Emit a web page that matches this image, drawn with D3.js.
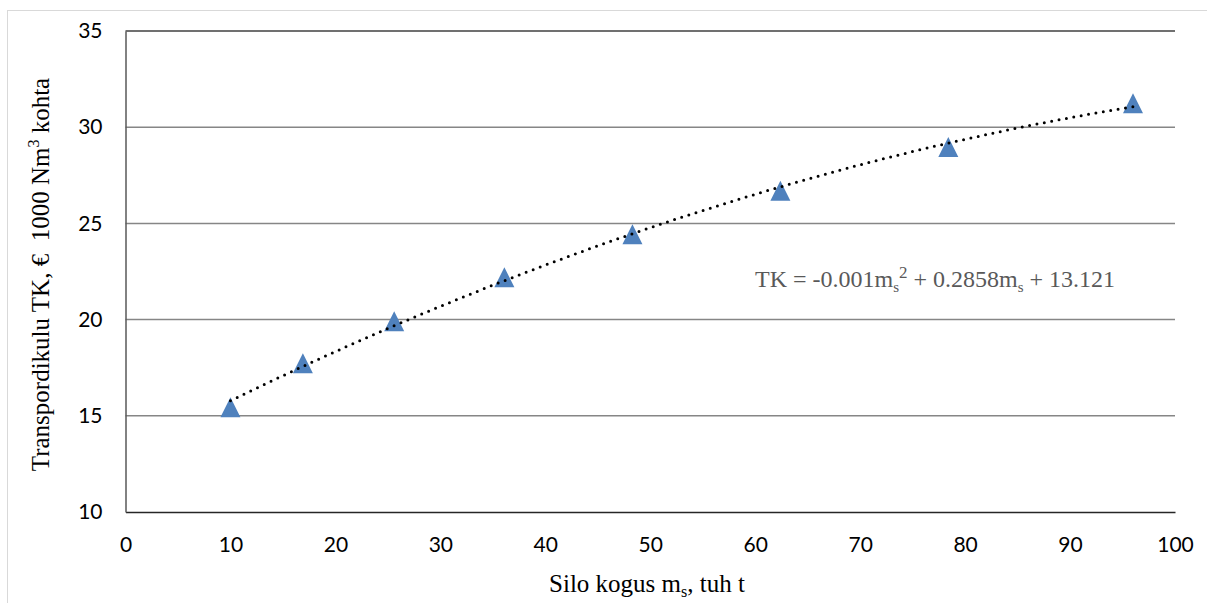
<!DOCTYPE html>
<html>
<head>
<meta charset="utf-8">
<script src="https://cdn.jsdelivr.net/npm/d3@7"></script>
<style>
  html, body { margin: 0; padding: 0; background: #fff; }
  svg { display: block; }
  .tick text { font-family: Lato, 'Open Sans', sans-serif; font-size: 21px; fill: #000; }
  .title { font-family: 'Liberation Serif', 'Times New Roman', serif; font-size: 25px; fill: #000; }
  .eq { font-family: 'Liberation Serif', 'Times New Roman', serif; font-size: 24px; fill: #595959; }
</style>
</head>
<body>
<script>
// silo amount (thousand t) and transport cost
const siloKogus = [10, 16.9, 25.6, 36.1, 48.3, 62.4, 78.4, 96]
const kulu = [15.44, 17.73, 19.92, 22.2, 24.44, 26.7, 28.97, 31.25]
const xTicks = [0, 10, 20, 30, 40, 50, 60, 70, 80, 90, 100]
const yTicks = [10, 15, 20, 25, 30, 35]

const width = 1207
const height = 603
const margin = { top: 31, right: 32, bottom: 91, left: 125.5 }
const w = width - margin.left - margin.right
const h = height - margin.top - margin.bottom

const svg = d3.select('body').append('svg')
  .attr('width', width)
  .attr('height', height)

// outer chart border
svg.append('rect')
  .attr('x', 7.5).attr('y', 10.5)
  .attr('width', width).attr('height', height)
  .attr('fill', 'none').attr('stroke', '#d9d9d9')

const g = svg.append('g').attr('transform', `translate(${margin.left},${margin.top})`)

const x = d3.scaleLinear().domain([0, 100]).range([0, w])
const y = d3.scaleLinear().domain([10, 35]).range([h, 0])

// gridlines
g.selectAll('.grid')
  .data(yTicks.filter(d => d > 10))
  .join('line')
  .attr('class', 'grid')
  .attr('x1', 0).attr('x2', w)
  .attr('y1', d => y(d)).attr('y2', d => y(d))
  .attr('stroke', d => d === 35 ? '#404040' : '#868686')
  .attr('stroke-width', 1.5)

const xAxis = g.append('g')
  .attr('transform', `translate(0,${h})`)
  .call(d3.axisBottom(x).tickValues(xTicks).tickSize(0).tickPadding(25))
xAxis.select('.domain').attr('stroke', '#262626').attr('stroke-width', 1.5)

const yAxis = g.append('g')
  .call(d3.axisLeft(y).tickValues(yTicks).tickSize(0).tickPadding(23))
yAxis.select('.domain').attr('stroke', '#595959').attr('stroke-width', 1.5)

// markers: triangle with its box centred on the point
const triangle = {
  draw(ctx, size) {
    const r = Math.sqrt(size) / 2
    ctx.moveTo(0, -r)
    ctx.lineTo(r, r)
    ctx.lineTo(-r, r)
    ctx.closePath()
  }
}
g.selectAll('.pt')
  .data(siloKogus.map((d, i) => [d, kulu[i]]))
  .join('path')
  .attr('class', 'pt')
  .attr('d', d3.symbol().type(triangle).size(400))
  .attr('transform', d => `translate(${x(d[0])},${y(d[1])})`)
  .attr('fill', '#4f81bd')

// polynomial (order 2) least squares trendline, like Excel's
function polyFit(xs, ys) {
  const n = xs.length
  const s = k => d3.sum(xs, v => Math.pow(v, k))
  const t = k => d3.sum(xs, (v, i) => Math.pow(v, k) * ys[i])
  const A = [[n, s(1), s(2)], [s(1), s(2), s(3)], [s(2), s(3), s(4)]]
  const B = [t(0), t(1), t(2)]
  // gaussian elimination
  for (let i = 0; i < 3; i++) {
    for (let j = i + 1; j < 3; j++) {
      const f = A[j][i] / A[i][i]
      for (let k = i; k < 3; k++) A[j][k] -= f * A[i][k]
      B[j] -= f * B[i]
    }
  }
  const c = [0, 0, 0]
  for (let i = 2; i >= 0; i--) {
    let v = B[i]
    for (let k = i + 1; k < 3; k++) v -= A[i][k] * c[k]
    c[i] = v / A[i][i]
  }
  return m => c[0] + c[1] * m + c[2] * m * m
}
const poly = polyFit(siloKogus, kulu)
const xs = d3.range(d3.min(siloKogus), d3.max(siloKogus) + 0.01, 0.5)
g.append('path')
  .datum(xs)
  .attr('fill', 'none')
  .attr('stroke', '#000')
  .attr('stroke-width', 3)
  .attr('stroke-linecap', 'round')
  .attr('stroke-dasharray', '0 7.5')
  .attr('d', d3.line().x(d => x(d)).y(d => y(poly(d))))

// equation
const eq = svg.append('text').attr('class', 'eq')
  .attr('x', 755).attr('y', 287)
eq.append('tspan').text('TK = -0.001m')
eq.append('tspan').attr('font-size', 15).attr('dy', 5).text('s')
eq.append('tspan').attr('font-size', 17).attr('dy', -14).text('2')
eq.append('tspan').attr('dy', 9).text(' + 0.2858m')
eq.append('tspan').attr('font-size', 15).attr('dy', 5).text('s')
eq.append('tspan').attr('dy', -5).text(' + 13.121')

// axis titles
const xt = svg.append('text').attr('class', 'title')
  .attr('x', 647).attr('y', 592).attr('text-anchor', 'middle')
xt.append('tspan').text('Silo kogus m')
xt.append('tspan').attr('font-size', 16).attr('dy', 5).text('s')
xt.append('tspan').attr('dy', -5).text(', tuh t')

const yt = svg.append('text').attr('class', 'title')
  .attr('transform', `translate(49,${margin.top + h / 2 + 3}) rotate(-90)`)
  .attr('text-anchor', 'middle')
  .attr('xml:space', 'preserve')
yt.append('tspan').text('Transpordikulu TK, €  1000 Nm')
yt.append('tspan').attr('font-size', 16).attr('dy', -10).text('3')
yt.append('tspan').attr('dy', 10).text(' kohta')
</script>
</body>
</html>
